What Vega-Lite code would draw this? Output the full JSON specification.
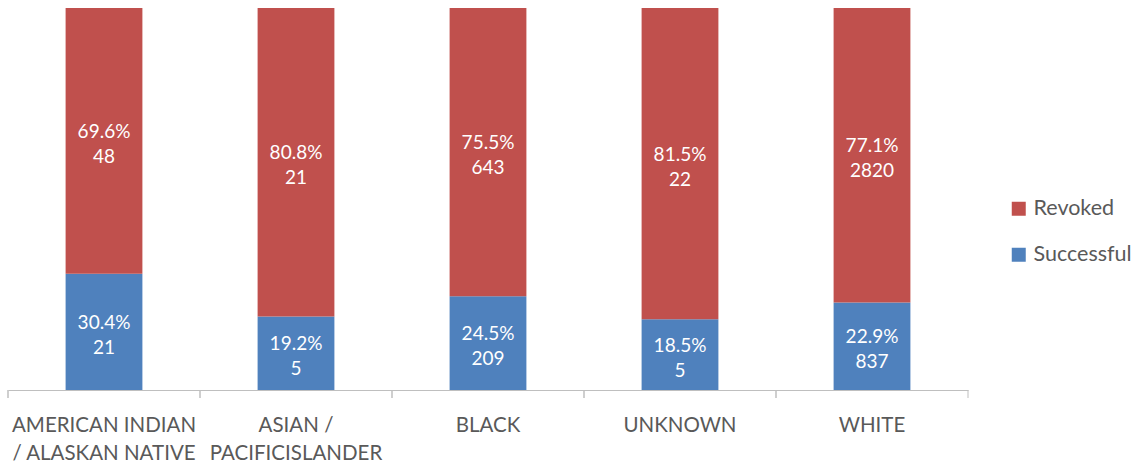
{
  "$schema": "https://vega.github.io/schema/vega-lite/v6.json",
  "width": 960,
  "height": 382,
  "padding": {"left": 8, "top": 8, "right": 169, "bottom": 78},
  "autosize": {"type": "none"},
  "background": "white",
  "config": {
    "view": {"stroke": null},
    "font": "Lato"
  },
  "data": {
    "values": [
      {"race": "AMERICAN INDIAN / ALASKAN NATIVE", "status": "Successful", "count": 21},
      {"race": "AMERICAN INDIAN / ALASKAN NATIVE", "status": "Revoked", "count": 48},
      {"race": "ASIAN / PACIFICISLANDER", "status": "Successful", "count": 5},
      {"race": "ASIAN / PACIFICISLANDER", "status": "Revoked", "count": 21},
      {"race": "BLACK", "status": "Successful", "count": 209},
      {"race": "BLACK", "status": "Revoked", "count": 643},
      {"race": "UNKNOWN", "status": "Successful", "count": 5},
      {"race": "UNKNOWN", "status": "Revoked", "count": 22},
      {"race": "WHITE", "status": "Successful", "count": 837},
      {"race": "WHITE", "status": "Revoked", "count": 2820}
    ]
  },
  "encoding": {
    "x": {
      "field": "race",
      "type": "nominal",
      "sort": null,
      "title": null,
      "scale": {"paddingInner": 0.6, "paddingOuter": 0.3},
      "axis": {
        "labelAngle": 0,
        "labelFontSize": 20.5,
        "labelColor": "#595959",
        "labelLineHeight": 28,
        "labelPadding": 25,
        "labelBaseline": "top",
        "labelLimit": 0,
        "labelOverlap": false,
        "domainColor": "#BFBFBF",
        "ticks": false,
        "labelExpr": "datum.value == 'AMERICAN INDIAN / ALASKAN NATIVE' ? ['AMERICAN INDIAN', '/ ALASKAN NATIVE'] : datum.value == 'ASIAN / PACIFICISLANDER' ? ['ASIAN /', 'PACIFICISLANDER'] : datum.value"
      }
    }
  },
  "layer": [
    {
      "transform": [
        {"stack": "count", "groupby": ["race"], "sort": [{"field": "status", "order": "descending"}], "offset": "normalize", "as": ["y0", "y1"]}
      ],
      "mark": {"type": "bar"},
      "encoding": {
        "y": {"field": "y0", "type": "quantitative", "scale": {"domain": [0, 1]}, "axis": null},
        "y2": {"field": "y1"},
        "color": {
          "field": "status",
          "type": "nominal",
          "scale": {"domain": ["Revoked", "Successful"], "range": ["#C0504D", "#4F81BD"]},
          "legend": {
            "title": null,
            "orient": "none",
            "legendX": 1000,
            "legendY": 190,
            "symbolType": "square",
            "symbolSize": 196,
            "symbolStrokeWidth": 0,
            "labelFontSize": 21.5,
            "labelColor": "#595959",
            "rowPadding": 23,
            "labelOffset": 4
          }
        }
      }
    },
    {
      "transform": [
        {"stack": "count", "groupby": ["race"], "sort": [{"field": "status", "order": "descending"}], "offset": "normalize", "as": ["y0", "y1"]},
        {"calculate": "(datum.y0 + datum.y1) / 2", "as": "mid"},
        {"calculate": "format(datum.y1 - datum.y0, '.1%') + '\\n' + datum.count", "as": "label"}
      ],
      "mark": {"type": "text", "color": "white", "fontSize": 19, "lineBreak": "\n", "lineHeight": 25, "baseline": "middle", "dy": -9},
      "encoding": {
        "y": {"field": "mid", "type": "quantitative", "scale": {"domain": [0, 1]}},
        "text": {"field": "label"}
      }
    },
    {
      "mark": {"type": "rule", "color": "#BFBFBF", "y2Offset": 8},
      "encoding": {
        "x": {"field": "race", "type": "nominal", "bandPosition": -0.75},
        "y": {"datum": 0, "type": "quantitative"},
        "y2": {"datum": 0}
      }
    },
    {
      "data": {"values": [{"race": "WHITE"}]},
      "mark": {"type": "rule", "color": "#BFBFBF", "y2Offset": 8},
      "encoding": {
        "x": {"field": "race", "type": "nominal", "bandPosition": 1.75},
        "y": {"datum": 0, "type": "quantitative"},
        "y2": {"datum": 0}
      }
    }
  ]
}
